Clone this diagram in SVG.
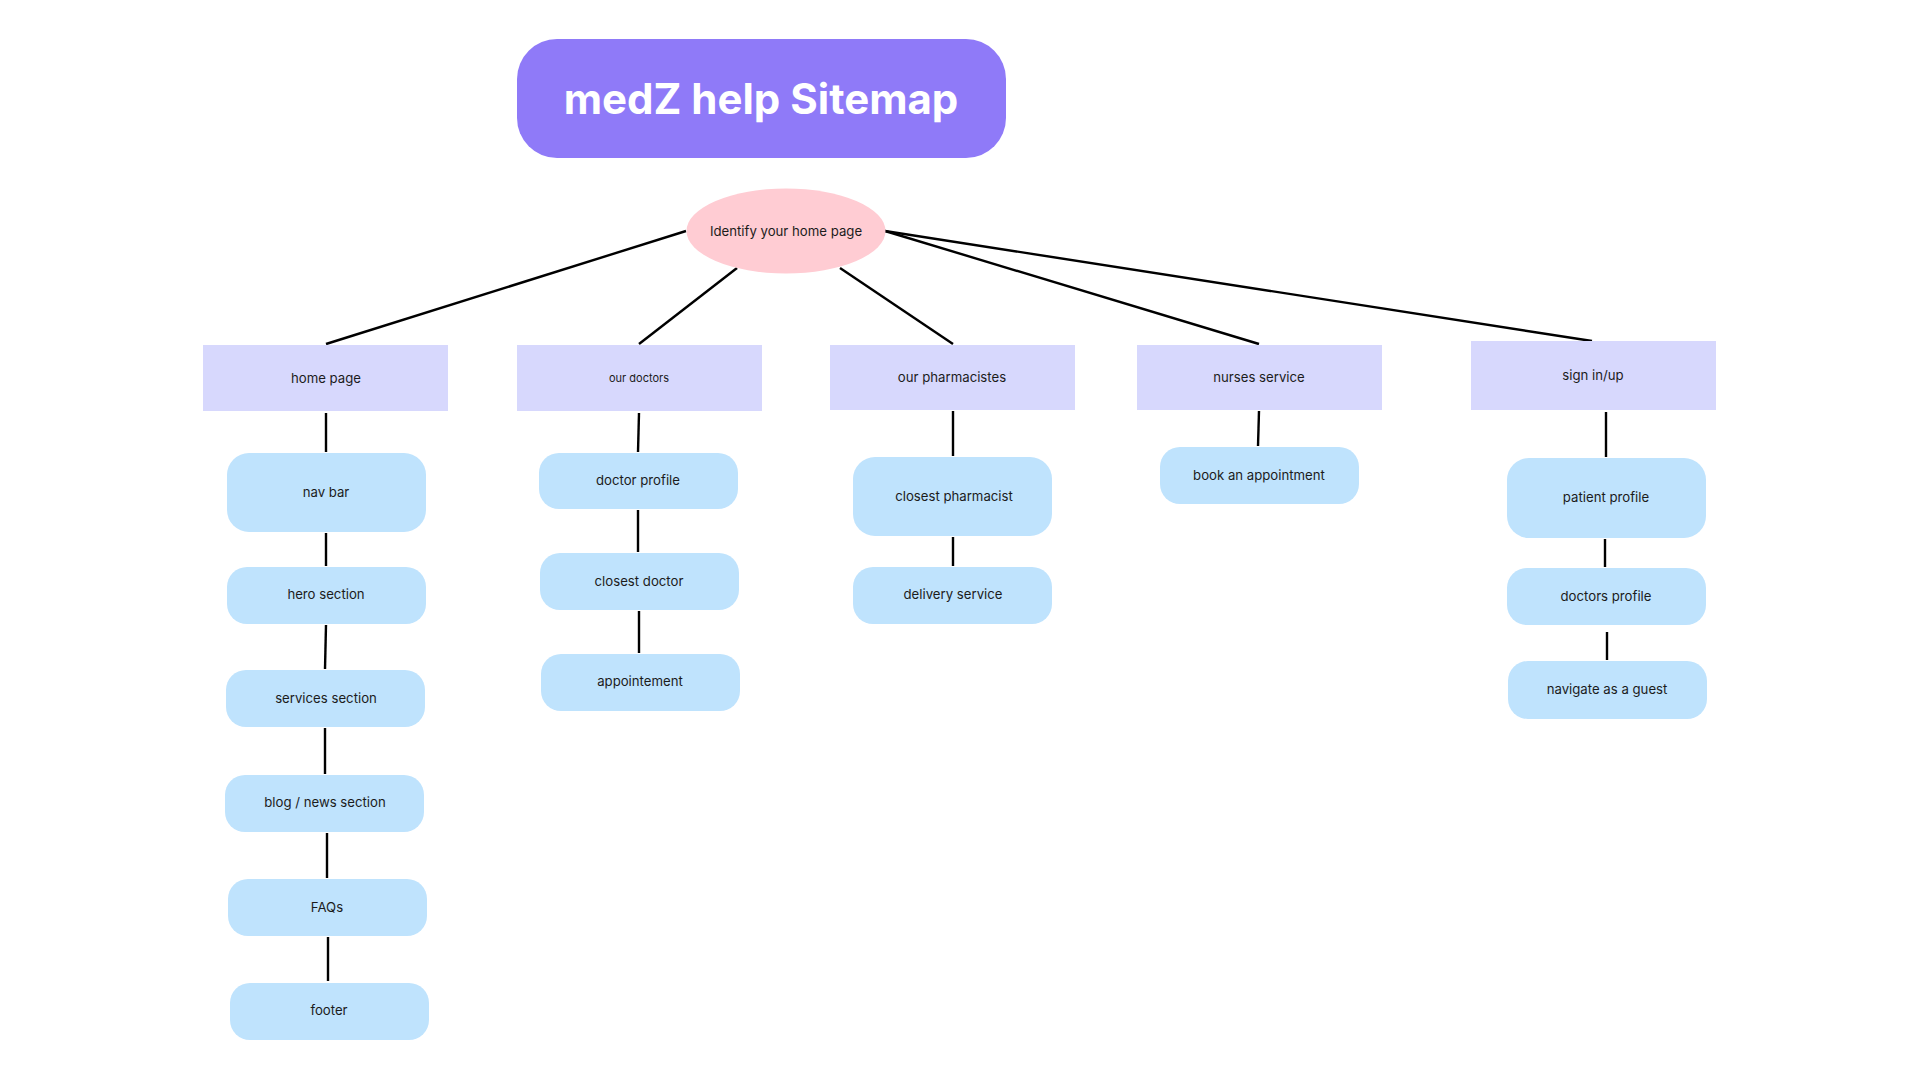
<svg xmlns="http://www.w3.org/2000/svg" width="1920" height="1080" viewBox="0 0 1920 1080">
<style>
.l1{fill:#d7d8fd}
.l2{fill:#bfe3fd}
.t{font-family:Inter,"DejaVu Sans",sans-serif;font-size:13.2px;fill:#1c1c1c;text-anchor:middle;dominant-baseline:central}
.s{font-size:11px}
.c{stroke:#000;stroke-width:2.4;fill:none;stroke-linecap:butt}
</style>
<rect width="1920" height="1080" fill="#fff"/>
<g id="title">
<rect x="517" y="39" width="489" height="119" rx="40" fill="#8f7af8"/>
<text x="761" y="98" font-family="Inter,'DejaVu Sans',sans-serif" font-size="42" font-weight="700" fill="#fff" text-anchor="middle" dominant-baseline="central">medZ help Sitemap</text>
</g>
<g id="connectors">
<line class="c" x1="686" y1="231" x2="326" y2="344"/>
<line class="c" x1="737" y1="268" x2="639" y2="344"/>
<line class="c" x1="840" y1="268" x2="953" y2="344"/>
<line class="c" x1="885" y1="231" x2="1259" y2="344"/>
<line class="c" x1="885" y1="231" x2="1592" y2="341"/>
<line class="c" x1="326" y1="413" x2="326" y2="452"/>
<line class="c" x1="326" y1="533" x2="326" y2="566"/>
<line class="c" x1="326" y1="625" x2="325" y2="669"/>
<line class="c" x1="325" y1="728" x2="325" y2="774"/>
<line class="c" x1="327" y1="833" x2="327" y2="878"/>
<line class="c" x1="328" y1="937" x2="328" y2="981"/>
<line class="c" x1="639" y1="413" x2="638" y2="452"/>
<line class="c" x1="638" y1="510" x2="638" y2="552"/>
<line class="c" x1="639" y1="611" x2="639" y2="653"/>
<line class="c" x1="953" y1="411" x2="953" y2="456"/>
<line class="c" x1="953" y1="537" x2="953" y2="566"/>
<line class="c" x1="1259" y1="411" x2="1258" y2="446"/>
<line class="c" x1="1606" y1="412" x2="1606" y2="457"/>
<line class="c" x1="1605" y1="539" x2="1605" y2="567"/>
<line class="c" x1="1607" y1="632" x2="1607" y2="660"/>
</g>
<g id="root">
<ellipse cx="786" cy="231" rx="99.5" ry="42.5" fill="#ffccd3"/>
<text class="t" x="786" y="231">Identify your home page</text>
</g>
<g id="home-page"><rect class="l1" x="203" y="345" width="245" height="66"/><text class="t" x="326" y="378">home page</text></g>
<g id="our-doctors"><rect class="l1" x="517" y="345" width="245" height="66"/><text class="t s" x="639" y="378">our doctors</text></g>
<g id="our-pharmacistes"><rect class="l1" x="830" y="345" width="245" height="65"/><text class="t" x="952" y="377">our pharmacistes</text></g>
<g id="nurses-service"><rect class="l1" x="1137" y="345" width="245" height="65"/><text class="t" x="1259" y="377">nurses service</text></g>
<g id="sign-in-up"><rect class="l1" x="1471" y="341" width="245" height="69"/><text class="t" x="1593" y="375">sign in/up</text></g>
<g id="nav-bar"><rect class="l2" x="227" y="453" width="199" height="79" rx="22"/><text class="t" x="326" y="492">nav bar</text></g>
<g id="hero-section"><rect class="l2" x="227" y="567" width="199" height="57" rx="20"/><text class="t" x="326" y="594">hero section</text></g>
<g id="services-section"><rect class="l2" x="226" y="670" width="199" height="57" rx="20"/><text class="t" x="326" y="698">services section</text></g>
<g id="blog-news-section"><rect class="l2" x="225" y="775" width="199" height="57" rx="20"/><text class="t" x="325" y="802">blog / news section</text></g>
<g id="faqs"><rect class="l2" x="228" y="879" width="199" height="57" rx="20"/><text class="t" x="327" y="907">FAQs</text></g>
<g id="footer"><rect class="l2" x="230" y="983" width="199" height="57" rx="20"/><text class="t" x="329" y="1010">footer</text></g>
<g id="doctor-profile"><rect class="l2" x="539" y="453" width="199" height="56" rx="20"/><text class="t" x="638" y="480">doctor profile</text></g>
<g id="closest-doctor"><rect class="l2" x="540" y="553" width="199" height="57" rx="20"/><text class="t" x="639" y="581">closest doctor</text></g>
<g id="appointement"><rect class="l2" x="541" y="654" width="199" height="57" rx="20"/><text class="t" x="640" y="681">appointement</text></g>
<g id="closest-pharmacist"><rect class="l2" x="853" y="457" width="199" height="79" rx="22"/><text class="t" x="954" y="496">closest pharmacist</text></g>
<g id="delivery-service"><rect class="l2" x="853" y="567" width="199" height="57" rx="20"/><text class="t" x="953" y="594">delivery service</text></g>
<g id="book-an-appointment"><rect class="l2" x="1160" y="447" width="199" height="57" rx="20"/><text class="t" x="1259" y="475">book an appointment</text></g>
<g id="patient-profile"><rect class="l2" x="1507" y="458" width="199" height="80" rx="22"/><text class="t" x="1606" y="497">patient profile</text></g>
<g id="doctors-profile"><rect class="l2" x="1507" y="568" width="199" height="57" rx="20"/><text class="t" x="1606" y="596">doctors profile</text></g>
<g id="navigate-as-a-guest"><rect class="l2" x="1508" y="661" width="199" height="58" rx="20"/><text class="t" x="1607" y="689">navigate as a guest</text></g>
</svg>
